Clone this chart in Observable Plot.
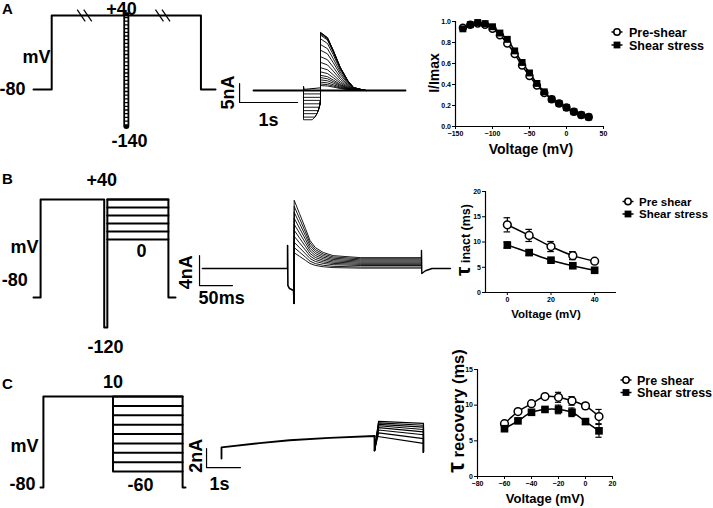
<!DOCTYPE html>
<html><head><meta charset="utf-8">
<script src="https://cdn.jsdelivr.net/npm/d3@7"></script>
<script src="https://cdn.jsdelivr.net/npm/@observablehq/plot@0.6"></script>
<style>
body{margin:0;background:#fff;}
#fig{position:relative;width:713px;height:508px;overflow:hidden;background:#fff;color:#000;}
#fig svg{position:absolute;left:0;top:0;}
</style></head><body><div id="fig"></div>
<script>
const W = 713, H = 508;
const FONT = '"Liberation Sans", Arial, Helvetica, sans-serif';

// ---------------- Panel A: steady-state inactivation (I/Imax) ----------------
const voltA  = [-140,-130,-120,-110,-100,-90,-80,-70,-60,-50,-40,-30,-20,-10,0,10,20,30];
const preA   = [0.94,0.97,0.98,0.97,0.93,0.87,0.79,0.69,0.58,0.48,0.39,0.32,0.26,0.22,0.18,0.14,0.11,0.09];
const shearA = [0.93,0.97,0.99,0.98,0.95,0.89,0.83,0.72,0.61,0.51,0.41,0.33,0.26,0.22,0.18,0.14,0.11,0.09];
const ticksAx = [-150,-100,-50,0,50];
const ticksAy = [0,0.2,0.4,0.6,0.8,1.0];
const legendA = ["Pre-shear","Shear stress"];

// ---------------- Panel B: tau inactivation ----------------
const voltB = [0,10,20,30,40];
const preB = [13.4,11.3,9.1,7.3,6.2],  preBerr = [1.4,1.2,1.0,0.8,0.3];
const shearB = [9.4,7.9,6.4,5.3,4.4],  shearBerr = [0.6,0.5,0.3,0.3,0.3];
const ticksBx = [0,20,40];
const ticksBy = [0,5,10,15,20];
const legendBC = ["Pre shear","Shear stress"];

// ---------------- Panel C: tau recovery ----------------
const voltC = [-60,-50,-40,-30,-20,-10,0,10];
const preC = [7.4,9.1,10.2,11.2,11.1,10.6,9.9,8.4],  preCerr = [0.2,0.3,0.2,0.2,0.7,0.6,0.4,1.0];
const shearC = [6.7,7.8,9.0,9.4,9.4,9.0,7.7,6.4],   shearCerr = [0.2,0.2,0.2,0.2,0.6,0.6,0.4,0.9];
const ticksCx = [-80,-60,-40,-20,0,20];
const ticksCy = [0,5,10,15];

// ---------------- Voltage protocols (schematic time units, mV) ----------------
const protoA_t = [0,10,10,92,92,100], protoA_v = [-80,-80,40,40,-80,-80];
const prepulseA_t = 51, prepulseA_range = [-140,40];
const breaksA_t = [28,71];
const protoB_t = [0,5,5,49.8,49.8,52,52,95,95,100], protoB_v = [-80,-80,40,40,-120,-120,40,40,-80,-80];
const stepsB_v = [40,32,24,16,8,0], stepsB_t = [52,95];
const protoC_t = [0,2,2,98,98,100], protoC_v = [-80,-80,10,10,-80,-80];
const stepsC_v = [10,1.25,-7.5,-16.25,-25,-33.75,-42.5,-51.25,-60], stepsC_t = [50,98];

// ---------------- Current traces ----------------
// A (s, nA)
const traceA_end = 2.62, prepulseA_on = 0.862, testA_on = 1.155;
const peaksA = [14.9,15.2,15.3,15.2,14.6,13.6,12.1,10.6,8.9,7.4,6.0,4.9,4.0,3.4,2.8,2.2,1.7,1.3];
const decayA_dt = [0,0.12,0.22,0.34,0.47,0.57,0.69,0.78];
const decayA_frac = [1,0.91,0.69,0.40,0.17,0.05,0.02,0];
const inwardA = [7.7,7.0,6.1,5.3,4.4,3.5,2.6,1.8,0.9];
const inwardA_endT = [1.012,1.060,1.095,1.116,1.134,1.147,1.155,1.155,1.155];
const smallA_t = [0.862,0.862,0.875,1.155,1.155], smallA_i = [0,1.1,0.3,0.7,0];
// B (ms, nA)
const traceB_end = 376;
const capB_t = [0,129,129,129.5,132,138,139], capB_i = [0,0,3.07,-2.27,-2.67,-2.93,-4.67];
const testB_on = 139, testB_off = 332;
const peaksB = [9.1,8.3,7.5,6.7,5.9,5.1,4.3,3.5,2.8,2.1];
const ssB = [1.45,1.3,1.15,1.0,0.85,0.7,0.55,0.4,0.2,0.05];
const decayB_dt = [0,8,17,24,32,44,59,100];
const decayB_frac = [1,0.77,0.51,0.30,0.175,0.09,0.035,0];
const tailB_t = [332,332,332.5,338,348,376], tailB_i = [1.45,2.4,-0.67,-0.3,0,0];
// C (s, nA)
const preTrC_t = [0,0,1.12,2.0,3.18,4.5,4.5], preTrC_i = [0,1.16,1.62,1.92,2.17,2.37,0.84];
const testC_peakT = 4.62, testC_off = 5.94, offC_i = 0.63;
const peaksC = [3.9,3.75,3.6,3.45,3.25,3.0,2.7];
const endsC = [3.7,3.5,3.3,3.05,2.8,2.5,2.1];
const lowestC_t = [4.5,5.94], lowestC_i = [2.37,1.6];

// scale bars: [current nA, time]
const barA = {i:5, t:1, li:"5nA", lt:"1s"};
const barB = {i:4, t:50, li:"4nA", lt:"50ms"};
const barC = {i:2, t:1, li:"2nA", lt:"1s"};

// ====================================================================
const fig = document.getElementById("fig");
const baseStyle = {background:"transparent", overflow:"visible", fontFamily:FONT, color:"black"};
const zip = (ts, vs) => ts.map((t,k)=>({t, v:vs[k]}));

// schematic panel: linear x scale; y through a (possibly piecewise) d3 linear scale
function schematic(xd, xr, yd, yr, build){
  const pw = d3.scaleLinear().domain(yd).range(yr);
  const Y = d => pw(d.v);
  const lab = (t, v, s, opts={}) => Plot.text([{t, v, s}], {x:"t", y:Y, text:"s", fontSize:18, fontWeight:"bold", fill:"black", ...opts});
  const scaleBar = (t0, i0, bar, labT, labI) => [
    Plot.line([{t:t0,v:i0+bar.i},{t:t0,v:i0},{t:t0+bar.t,v:i0}], {x:"t", y:Y, stroke:"black", strokeWidth:1.2}),
    lab(labI[0], labI[1], bar.li, {rotate:-90}),
    lab(labT[0], labT[1], bar.lt)
  ];
  const svg = Plot.plot({width:W, height:H, margin:0, axis:null,
    x:{domain:xd, range:xr}, y:{type:"identity"},
    style:baseStyle, marks: build({Y, pw, lab, scaleBar})});
  fig.appendChild(svg);
  return svg;
}

// ---- Protocol A ----
const slashesA = breaksA_t.flatMap(b => [-1.8,1.8].map(o => ({x1:b+o-2.2, y1:49.5, x2:b+o+2.2, y2:30.5})));
schematic([0,100],[33,215],[-140,40],[126,15], ({Y,pw,lab}) => [
  Plot.line(zip(protoA_t, protoA_v), {x:"t", y:Y, stroke:"black", strokeWidth:2}),
  Plot.ruleX([prepulseA_t], {y1:pw(prepulseA_range[0]), y2:pw(prepulseA_range[1]), stroke:"black", strokeWidth:6, strokeLinecap:"round"}),
  Plot.ruleX([prepulseA_t], {y1:pw(prepulseA_range[0]+3), y2:pw(prepulseA_range[1]-2), stroke:"white", strokeWidth:2.4, strokeDasharray:"2.4,1.3"}),
  Plot.link(slashesA, {x1:"x1", y1:d=>pw(d.y1), x2:"x2", y2:d=>pw(d.y2), stroke:"black", strokeWidth:1.2}),
  lab(-4.4, -80, "-80", {textAnchor:"end"}),
  lab(9.3, -28, "mV", {textAnchor:"end"}),
  lab(48.4, 40, "+40", {dy:-6.5}),
  lab(52.7, -140, "-140", {dy:15})
]);

// ---- Protocol B ----
const stepsB = stepsB_v.flatMap((v,k)=>[{t:stepsB_t[0],v,k},{t:stepsB_t[1],v,k}]);
schematic([0,100],[33,175],[-120,-80,0,40],[327,297,239,199], ({Y,lab}) => [
  Plot.line(zip(protoB_t, protoB_v), {x:"t", y:Y, stroke:"black", strokeWidth:2}),
  Plot.line(stepsB, {x:"t", y:Y, z:"k", stroke:"black", strokeWidth:2}),
  lab(-4, -80, "-80", {textAnchor:"end", dy:-17}),
  lab(3.5, -11, "mV", {textAnchor:"end"}),
  lab(48, 40, "+40", {dy:-19}),
  lab(76, 0, "0", {dy:12}),
  lab(50.7, -120, "-120", {dy:20})
]);

// ---- Protocol C ----
const stepsC = stepsC_v.flatMap((v,k)=>[{t:stepsC_t[0],v,k},{t:stepsC_t[1],v,k}]);
schematic([0,100],[40,185],[-80,-60,10],[487,471,396], ({Y,pw,lab}) => [
  Plot.line(zip(protoC_t, protoC_v), {x:"t", y:Y, stroke:"black", strokeWidth:2}),
  Plot.line(stepsC, {x:"t", y:Y, z:"k", stroke:"black", strokeWidth:2}),
  Plot.ruleX([stepsC_t[0]], {y1:pw(stepsC_v[stepsC_v.length-1]), y2:pw(stepsC_v[0]), stroke:"black", strokeWidth:2}),
  lab(-3.4, -80, "-80", {textAnchor:"end", dy:-3}),
  lab(-1.4, -36.7, "mV", {textAnchor:"end"}),
  lab(50, 10, "10", {dy:-14}),
  lab(69, -60, "-60", {dy:14})
]);

// ---- Trace A ----
const outA = peaksA.flatMap((p,k)=>[{t:testA_on,v:0,k}, ...decayA_dt.map((dt,j)=>({t:testA_on+dt, v:p*decayA_frac[j], k}))]);
const inA = inwardA.flatMap((d,k)=>[{t:prepulseA_on,v:0,k},{t:prepulseA_on,v:-d,k},
  ...inwardA.slice(k).map((d2,j)=>({t:inwardA_endT[k+j], v:-d2, k})), {t:testA_on, v:0, k}]);
schematic([0,traceA_end],[253,405],[0,5],[90,71], ({Y,scaleBar}) => [
  Plot.line([{t:0,v:0},{t:traceA_end,v:0}], {x:"t", y:Y, stroke:"black", strokeWidth:1.8}),
  Plot.line(zip(smallA_t, smallA_i), {x:"t", y:Y, stroke:"black", strokeWidth:1}),
  Plot.line(inA, {x:"t", y:Y, z:"k", stroke:"black", strokeWidth:0.9}),
  Plot.line(outA, {x:"t", y:Y, z:"k", stroke:"black", strokeWidth:0.9}),
  ...scaleBar(-0.24, -3.16, barA, [0.26,-7.9], [-0.43,-0.5])
]);

// ---- Trace B ----
const famB = peaksB.flatMap((p,k)=>[{t:testB_on,v:capB_i[capB_i.length-1],k},
  ...decayB_dt.map((dt,j)=>({t:testB_on+dt, v:ssB[k]+(p-ssB[k])*decayB_frac[j], k})),
  {t:testB_off, v:ssB[k], k}]);
schematic([0,traceB_end],[202,450],[0,4],[268,238], ({Y,scaleBar}) => [
  Plot.line(zip(capB_t, capB_i), {x:"t", y:Y, stroke:"black", strokeWidth:1.6}),
  Plot.line(famB, {x:"t", y:Y, z:"k", stroke:"black", strokeWidth:0.9}),
  Plot.line(zip(tailB_t, tailB_i), {x:"t", y:Y, stroke:"black", strokeWidth:1.4}),
  ...scaleBar(-4.5, -2.27, barB, [29,-4], [-24,-0.5])
]);

// ---- Trace C ----
const famC = peaksC.flatMap((p,k)=>[{t:preTrC_t[preTrC_t.length-1],v:preTrC_i[preTrC_i.length-1],k},
  {t:testC_peakT, v:p, k}, {t:testC_off, v:endsC[k], k}, {t:testC_off, v:offC_i, k}]);
schematic([0,6],[221,425],[0,2],[458,439], ({Y,scaleBar}) => [
  Plot.line(zip(preTrC_t, preTrC_i), {x:"t", y:Y, stroke:"black", strokeWidth:1.8}),
  Plot.line(famC, {x:"t", y:Y, z:"k", stroke:"black", strokeWidth:1.2}),
  Plot.line(zip(lowestC_t, lowestC_i), {x:"t", y:Y, stroke:"black", strokeWidth:1.2}),
  ...scaleBar(-0.44, -0.95, barC, [-0.06,-2.7], [-0.74,0.3])
]);

// ---------------- data plots ----------------
function dataPlot({xd, yd, box, xt, yt, yfmt, pre, shear, preErr, shearErr, cap, r, curve}){
  const [x0,x1,y0,y1] = box; // pixel frame: left,right,top,bottom
  const rowsPre = pre.x.map((x,k)=>({x, y:pre.y[k], e:preErr?preErr[k]:0}));
  const rowsSh = shear.x.map((x,k)=>({x, y:shear.y[k], e:shearErr?shearErr[k]:0}));
  const marks = [
    Plot.axisX({ticks:xt, tickSize:3, tickPadding:1.5, fontSize:7, fontWeight:"bold", label:null}),
    Plot.axisY({ticks:yt, tickFormat:yfmt, tickSize:3, tickPadding:1.5, fontSize:7, fontWeight:"bold", label:null}),
    Plot.ruleX([xd[0]], {stroke:"black", strokeWidth:1.2}),
    Plot.ruleY([yd[0]], {stroke:"black", strokeWidth:1.2})
  ];
  if (preErr){
    for (const rows of [rowsPre, rowsSh]){
      marks.push(Plot.ruleX(rows, {x:"x", y1:d=>d.y-d.e, y2:d=>d.y+d.e, stroke:"black", strokeWidth:1.2}));
      marks.push(Plot.ruleY(rows, {y:d=>d.y+d.e, x1:d=>d.x-cap, x2:d=>d.x+cap, stroke:"black", strokeWidth:1.2}));
      marks.push(Plot.ruleY(rows, {y:d=>d.y-d.e, x1:d=>d.x-cap, x2:d=>d.x+cap, stroke:"black", strokeWidth:1.2}));
    }
  }
  marks.push(
    Plot.line(rowsPre, {x:"x", y:"y", curve, stroke:"black", strokeWidth:1.5}),
    Plot.line(rowsSh, {x:"x", y:"y", curve, stroke:"black", strokeWidth:1.5}),
    Plot.dot(rowsPre, {x:"x", y:"y", r:r*0.9, fill:"white", stroke:"black", strokeWidth:1.5}),
    Plot.dot(rowsSh, {x:"x", y:"y", r:r, symbol:"square", fill:"black"})
  );
  const svg = Plot.plot({width:W, height:H, marginLeft:x0, marginRight:W-x1, marginTop:y0, marginBottom:H-y1,
    x:{domain:xd}, y:{domain:yd},
    style:{...baseStyle, fontSize:"7px", fontWeight:"bold"}, marks});
  fig.appendChild(svg);
  return svg;
}

const svgA = dataPlot({xd:[-150,50], yd:[0,1], box:[455,603,21,126], xt:ticksAx, yt:ticksAy, yfmt:d3.format(".1f"),
  pre:{x:voltA,y:preA}, shear:{x:voltA,y:shearA}, r:3.9, curve:"catmull-rom"});
const svgB = dataPlot({xd:[-10,50], yd:[0,20], box:[485,616,191,292], xt:ticksBx, yt:ticksBy, yfmt:d3.format("d"),
  pre:{x:voltB,y:preB}, shear:{x:voltB,y:shearB}, preErr:preBerr, shearErr:shearBerr, cap:1.5, r:4.3, curve:"catmull-rom"});
const svgC = dataPlot({xd:[-80,20], yd:[0,15], box:[477,612,369,476], xt:ticksCx, yt:ticksCy, yfmt:d3.format("d"),
  pre:{x:voltC,y:preC}, shear:{x:voltC,y:shearC}, preErr:preCerr, shearErr:shearCerr, cap:2.3, r:4.3, curve:"catmull-rom"});

// ---------------- text annotations: axis titles, legends, panel letters ----------------
function txt(svg, x, y, s, size, anchor="middle"){
  return d3.select(svg).append("text").attr("x",x).attr("y",y).attr("text-anchor",anchor)
    .attr("font-family",FONT).attr("font-weight","bold").attr("font-size",size).attr("fill","black").text(s);
}
function ylab(svg, x, y, parts){
  const t = d3.select(svg).append("text").attr("transform",`translate(${x},${y}) rotate(-90)`)
    .attr("text-anchor","middle").attr("font-family",FONT).attr("font-weight","bold").attr("fill","black");
  for (const [s,size] of parts) t.append("tspan").attr("font-size",size).text(s);
}
function legend(svg, labels, x, ys, size, tx){
  const g = d3.select(svg).append("g");
  labels.forEach((s,k)=>{
    const y = ys[k];
    g.append("line").attr("x1",x-5.5).attr("x2",x+5.5).attr("y1",y).attr("y2",y).attr("stroke","black").attr("stroke-width",1.5);
    if (k===0) g.append("circle").attr("cx",x).attr("cy",y).attr("r",3.2).attr("fill","white").attr("stroke","black").attr("stroke-width",1.5);
    else g.append("rect").attr("x",x-3.4).attr("y",y-3.4).attr("width",6.8).attr("height",6.8).attr("fill","black");
    g.append("text").attr("x",tx).attr("y",y).attr("dy","0.36em").attr("text-anchor","start").attr("font-family",FONT).attr("font-weight","bold")
      .attr("font-size",size).attr("fill","black").text(s);
  });
}
txt(svgA, 531, 154, "Voltage (mV)", 14);
ylab(svgA, 439, 73, [["I/Imax",14]]);
legend(svgA, legendA, 617, [32,45], 12.5, 629);

txt(svgB, 546, 318, "Voltage (mV)", 11.5);
ylab(svgB, 470, 240, [["τ",21],[" inact (ms)",12.5]]);
legend(svgB, legendBC, 628, [201.5,214], 11.5, 639);

txt(svgC, 545, 503, "Voltage (mV)", 13);
ylab(svgC, 464, 411, [["τ",24],[" recovery (ms)",16.5]]);
legend(svgC, legendBC, 626, [380,392.5], 12.5, 637);

txt(svgC, 2, 14, "A", 15, "start");
txt(svgC, 2, 184, "B", 15, "start");
txt(svgC, 2, 389, "C", 15, "start");
</script></body></html>
